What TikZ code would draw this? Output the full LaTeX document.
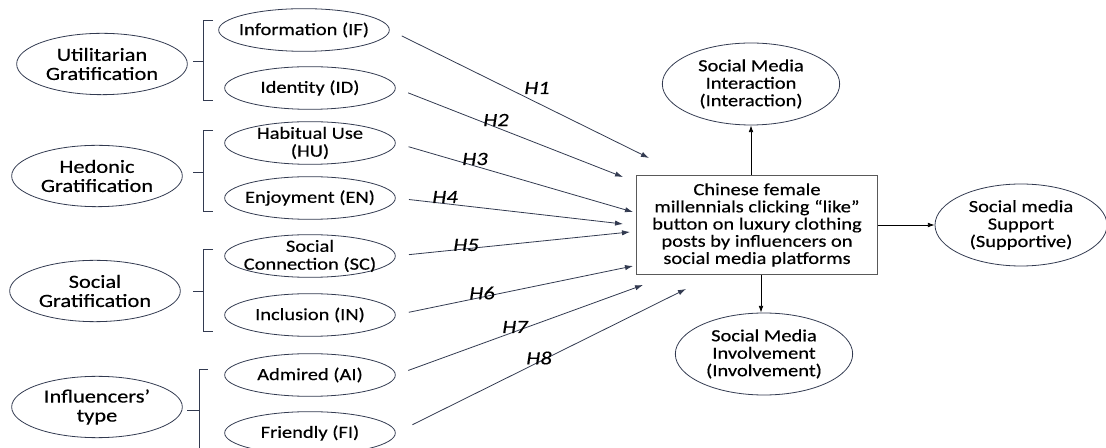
\documentclass[tikz,border=0pt]{standalone}
\usepackage{fontspec}
\setmainfont{Carlito}[FakeStretch=1.2, FakeBold=0.4]
\usetikzlibrary{arrows.meta}
\usetikzlibrary{shapes.geometric}
\definecolor{edge}{RGB}{50,58,80}

\begin{document}
\begin{tikzpicture}[
    x=0.75pt, y=-0.75pt,
    GRP/.style={ellipse, draw=edge, line width=0.6pt, inner xsep=-4pt, inner ysep=-3pt, minimum width=128pt, minimum height=46pt, align=center, font=\fontsize{14}{14.3}\selectfont},
    ITM/.style={ellipse, draw=edge, line width=0.6pt, inner xsep=-14pt, inner ysep=-4pt, minimum width=128pt, minimum height=32pt, align=center, font=\fontsize{12.8}{13.4}\selectfont},
    OUT/.style={ellipse, draw=edge, line width=0.6pt, inner xsep=-4pt, inner ysep=-3pt, minimum width=133pt, minimum height=61.5pt, align=center, font=\fontsize{12.8}{13.1}\selectfont},
    CORE/.style={rectangle, draw=black!65, line width=0.8pt, inner sep=0pt, minimum width=181pt, minimum height=74pt, align=center, font=\fontsize{12.8}{12.9}\selectfont},
    HYP/.style={-{Latex[length=6pt,width=4pt]}, edge, line width=0.6pt, shorten <=10pt},
    RES/.style={-{Latex[length=5pt,width=3.5pt]}, black, line width=0.6pt},
    HLAB/.style={font=\fontsize{14}{14}\selectfont\itshape},
    BRK/.style={draw=edge, line width=0.6pt},
    ]
        \useasboundingbox (0,0) rectangle (1106,448);

        % gratification groups
        \node[GRP] (UG) at (102,64)  {Utilitarian\\Gratification};
        \node[GRP] (HG) at (97,176)  {Hedonic\\Gratification};
        \node[GRP] (SG) at (95,291)  {Social\\Gratification};
        \node[GRP] (IT) at (97,407)  {Influencers'\\type};

        % items
        \node[ITM] (IF) at (304,30)  {Information (IF)};
        \node[ITM] (ID) at (310,88)  {Identity (ID)};
        \node[ITM] (HU) at (310,143) {Habitual Use\\(HU)};
        \node[ITM] (EN) at (310,198) {Enjoyment (EN)};
        \node[ITM] (SC) at (310,256) {Social\\Connection (SC)};
        \node[ITM] (IN) at (310,315) {Inclusion (IN)};
        \node[ITM] (AI) at (310,375) {Admired (AI)};
        \node[ITM] (FI) at (310,433) {Friendly (FI)};

        % brackets
        \path[BRK] (213,20) -- (203,20) -- (203,100) -- (213,100) (193,61) -- (203,61);
        \path[BRK] (213,130) -- (203,130) -- (203,211) -- (213,211) (193,172) -- (203,172);
        \path[BRK] (213,249) -- (203,249) -- (203,331) -- (213,331) (193,291) -- (203,291);
        \path[BRK] (208,369) -- (199,369) -- (199,455) (187,410) -- (199,410);

        % behaviour and outcomes
        \node[CORE] (C0) at (757,225) {Chinese female\\millennials clicking “like”\\button on luxury clothing\\posts by influencers on\\social media platforms};
        \node[OUT] (OI) at (751,84)  {Social Media\\Interaction\\(Interaction)};
        \node[OUT, minimum width=129pt] (OS) at (1021,225) {Social media\\Support\\(Supportive)};
        \node[OUT] (OV) at (764,354) {Social Media\\Involvement\\(Involvement)};

        \draw[RES] (C0.north -| OI.south) -- (OI.south);
        \draw[RES] (C0.east) -- (OS.west);
        \draw[RES] (C0.south -| 761,0) -- (OV.north -| 761,0);

        % hypotheses
        \coordinate (E1) at (649,158);
        \coordinate (E2) at (623,177);
        \coordinate (E3) at (633,212);
        \coordinate (E4) at (623,224);
        \coordinate (E5) at (630,232);
        \coordinate (E6) at (633,266);
        \coordinate (E7) at (643,285);
        \coordinate (E8) at (686,289);
        \draw[HYP] (IF.east) -- (E1);
        \draw[HYP] (ID.east) -- (E2);
        \draw[HYP] (HU.east) -- (E3);
        \draw[HYP] (EN.east) -- (E4);
        \draw[HYP] (SC.east) -- (E5);
        \draw[HYP] (IN.east) -- (E6);
        \draw[HYP] (AI.east) -- (E7);
        \draw[HYP, shorten <=14pt] (FI.east) -- (E8);

        \node[HLAB] (L1) at (537,88)  {H1};
        \node[HLAB] (L2) at (496,120) {H2};
        \node[HLAB] (L3) at (475,159) {H3};
        \node[HLAB] (L4) at (445,197) {H4};
        \node[HLAB] (L5) at (466,245) {H5};
        \node[HLAB] (L6) at (482,293) {H6};
        \node[HLAB] (L7) at (515,327) {H7};
        \node[HLAB] (L8) at (539,358) {H8};
    \end{tikzpicture}
\end{document}
